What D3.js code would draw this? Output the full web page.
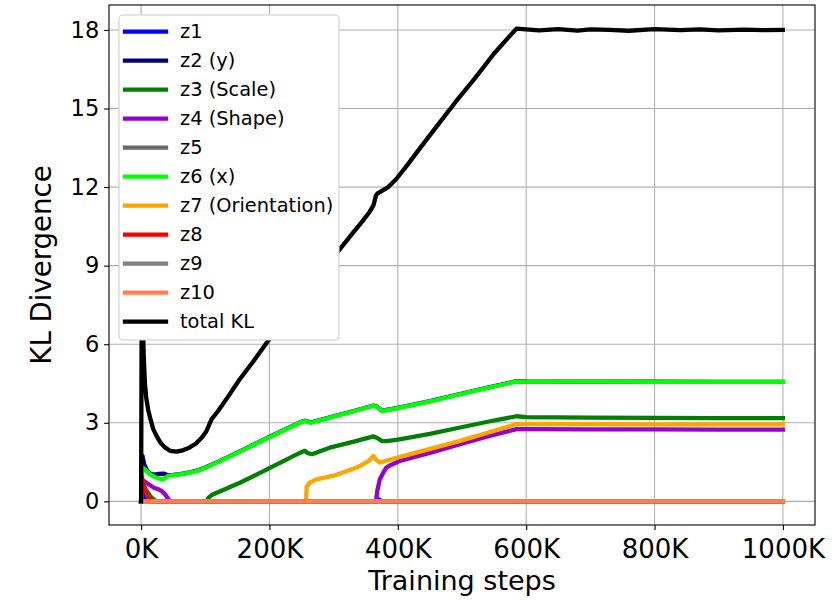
<!DOCTYPE html>
<html>
<head>
<meta charset="utf-8">
<script src="https://cdn.jsdelivr.net/npm/d3@7"></script>
<style>
  body { margin: 0; background: white; }
  text { font-family: "DejaVu Sans", sans-serif; }
</style>
</head>
<body>
<div id="chart"></div>
<script>
// training steps in thousands, KL values
const z1 = [[0,0],[2,0.3],[5,0.1],[10,0],[365,0],[370,0.08],[376,0],[1000,0]];
const z2 = [[0,0],[2,1.75],[5,1.4],[10,1.15],[15,1.05],[20,1.02],[28,1.05],[35,1.06],[42,1.0],[50,1.01],[61,1.04],[76,1.11],[87,1.17],[100,1.29],[118,1.49],[154,1.91],[200,2.46],[248,3.02],[255,3.08],[260,3.04],[266,3.02],[294,3.21],[330,3.44],[362,3.66],[368,3.61],[375,3.47],[380,3.48],[398,3.56],[450,3.83],[497,4.1],[540,4.34],[585,4.59],[600,4.58],[700,4.57],[800,4.57],[900,4.56],[1000,4.56]];
const z3 = [[0,0],[2,0.7],[5,0.55],[10,0.35],[16,0.15],[22,0.03],[26,0],[103,0],[105,0.14],[110,0.24],[118,0.33],[154,0.71],[200,1.27],[248,1.86],[255,1.93],[260,1.84],[266,1.8],[294,2.05],[330,2.27],[362,2.48],[368,2.42],[375,2.31],[382,2.3],[398,2.35],[450,2.58],[497,2.82],[540,3.04],[585,3.25],[600,3.22],[700,3.2],[800,3.19],[900,3.18],[1000,3.18]];
const z4 = [[0,0],[3,0.8],[10,0.68],[20,0.52],[28,0.45],[33,0.38],[38,0.25],[42,0.1],[45,0],[366,0],[368,0.4],[372,0.85],[378,1.12],[382,1.29],[390,1.4],[403,1.54],[450,1.85],[497,2.18],[540,2.48],[585,2.76],[600,2.76],[700,2.75],[800,2.75],[900,2.74],[1000,2.74]];
const z5 = [[0,0],[1000,0]];
const z6 = [[0,0],[2,1.3],[6,1.22],[14,1.03],[24,0.9],[34,0.84],[38,0.9],[42,0.97],[50,1.0],[61,1.03],[76,1.1],[87,1.16],[100,1.28],[118,1.48],[154,1.9],[200,2.45],[248,3.01],[255,3.07],[260,3.03],[266,3.01],[294,3.2],[330,3.43],[362,3.65],[368,3.6],[375,3.46],[380,3.47],[398,3.55],[450,3.82],[497,4.09],[540,4.33],[585,4.58],[600,4.57],[700,4.57],[800,4.56],[900,4.56],[1000,4.56]];
const z7 = [[0,0],[257,0],[258,0.55],[262,0.71],[273,0.84],[300,0.98],[336,1.29],[355,1.55],[362,1.73],[366,1.6],[372,1.48],[388,1.6],[430,1.87],[497,2.31],[540,2.62],[585,2.95],[600,2.96],[700,2.95],[800,2.94],[900,2.94],[1000,2.94]];
const z8 = [[0,0],[1,0.95],[3,0.75],[6,0.45],[10,0.2],[15,0.05],[20,0],[1000,0]];
const z9 = [[0,0],[1000,0]];
const z10 = [[0,0],[1000,0]];
const totalKL = [[0,0],[1,8.0],[2,7.6],[3,6.6],[4,5.6],[6,4.5],[8,3.95],[11,3.5],[15,3.1],[19,2.76],[24,2.5],[30,2.25],[37,2.06],[45,1.93],[55,1.9],[65,1.95],[75,2.05],[85,2.2],[95,2.45],[102,2.69],[106,2.92],[110,3.14],[120,3.45],[135,3.98],[154,4.67],[175,5.35],[196,6.07],[220,6.82],[250,7.75],[280,8.7],[310,9.64],[330,10.25],[345,10.7],[356,11.05],[362,11.3],[366,11.68],[368,11.75],[372,11.81],[385,12.0],[398,12.32],[415,12.85],[434,13.47],[460,14.3],[490,15.25],[520,16.15],[550,17.1],[570,17.65],[585,18.05],[600,18.02],[620,17.98],[650,18.03],[680,17.97],[700,18.02],[730,18.0],[760,17.97],[800,18.03],[840,17.99],[870,18.02],[900,17.98],[940,18.01],[970,17.99],[1000,18.0]];

const seriesNames = ["z1", "z2 (y)", "z3 (Scale)", "z4 (Shape)", "z5", "z6 (x)", "z7 (Orientation)", "z8", "z9", "z10", "total KL"];
const seriesData = [z1, z2, z3, z4, z5, z6, z7, z8, z9, z10, totalKL];
const seriesColors = ["#0000ff", "#000080", "#008000", "#9400d3", "#696969", "#00ff00", "#ffa500", "#ff0000", "#808080", "#ff7f50", "#000000"];
const xTicks = [0, 200, 400, 600, 800, 1000];
const yTicks = [0, 3, 6, 9, 12, 15, 18];

var dimensions = {
    width: 838,
    height: 600,
    margin: { top: 5, bottom: 75, right: 23, left: 109 }
};

var svg = d3.select("#chart")
    .append("svg")
    .attr("width", dimensions.width)
    .attr("height", dimensions.height);

// matplotlib style autoscale: 5% padding on each side
const allX = seriesData.flat().map(d => d[0]);
const allY = seriesData.flat().map(d => d[1]);
const [x0, x1] = d3.extent(allX);
const [y0, y1] = d3.extent(allY);
const xPad = (x1 - x0) * 0.05, yPad = (y1 - y0) * 0.05;

const xScale = d3.scaleLinear()
    .domain([x0 - xPad, x1 + xPad])
    .range([dimensions.margin.left, dimensions.width - dimensions.margin.right]);
const yScale = d3.scaleLinear()
    .domain([y0 - yPad, y1 + yPad])
    .range([dimensions.height - dimensions.margin.bottom, dimensions.margin.top]);

const plotLeft = xScale.range()[0], plotRight = xScale.range()[1];
const plotTop = yScale.range()[1], plotBottom = yScale.range()[0];

// grid
svg.append("g").selectAll("line")
    .data(xTicks).enter().append("line")
    .attr("x1", d => xScale(d)).attr("x2", d => xScale(d))
    .attr("y1", plotTop).attr("y2", plotBottom)
    .attr("stroke", "#b0b0b0").attr("stroke-width", 1.1);
svg.append("g").selectAll("line")
    .data(yTicks).enter().append("line")
    .attr("x1", plotLeft).attr("x2", plotRight)
    .attr("y1", d => yScale(d)).attr("y2", d => yScale(d))
    .attr("stroke", "#b0b0b0").attr("stroke-width", 1.1);

// lines
const line = d3.line().x(d => xScale(d[0])).y(d => yScale(d[1]));
svg.append("g").selectAll("path")
    .data(seriesData).enter().append("path")
    .attr("d", line)
    .attr("fill", "none")
    .attr("stroke", (d, i) => seriesColors[i])
    .attr("stroke-width", 4.3)
    .attr("stroke-linejoin", "round")
    .attr("stroke-linecap", "square");

// spines
svg.append("rect")
    .attr("x", plotLeft).attr("y", plotTop)
    .attr("width", plotRight - plotLeft).attr("height", plotBottom - plotTop)
    .attr("fill", "none").attr("stroke", "black").attr("stroke-width", 1.1);

// axes
const xAxis = svg.append("g")
    .attr("transform", `translate(0,${plotBottom})`)
    .call(d3.axisBottom(xScale).tickValues(xTicks).tickFormat(d => d + "K").tickSize(4.9).tickPadding(4.9));
const yAxis = svg.append("g")
    .attr("transform", `translate(${plotLeft},0)`)
    .call(d3.axisLeft(yScale).tickValues(yTicks).tickSize(4.9).tickPadding(4.9));
[xAxis, yAxis].forEach(ax => {
    ax.select(".domain").remove();
    ax.selectAll(".tick line").attr("stroke", "black").attr("stroke-width", 1.1);
    ax.selectAll(".tick text")
        .attr("fill", "black")
        .style("font-family", "DejaVu Sans")
        .style("font-size", "22.5px");
});
// x tick labels are set larger than the y ones
xAxis.selectAll(".tick text")
    .style("font-size", "26px")
    .attr("y", 33)
    .attr("dy", 0);

// axis labels
svg.append("text")
    .attr("x", (plotLeft + plotRight) / 2)
    .attr("y", 590)
    .attr("text-anchor", "middle")
    .style("font-size", "27px")
    .text("Training steps");
svg.append("text")
    .attr("transform", `translate(51,${(plotTop + plotBottom) / 2}) rotate(-90)`)
    .attr("text-anchor", "middle")
    .style("font-size", "27.6px")
    .text("KL Divergence");

// legend
const legend = svg.append("g");
legend.append("rect")
    .attr("x", 119).attr("y", 15)
    .attr("width", 220).attr("height", 325)
    .attr("rx", 4).attr("ry", 4)
    .attr("fill", "white")
    .attr("stroke", "#cccccc").attr("stroke-width", 1.1);
const entries = legend.selectAll("g")
    .data(seriesNames).enter().append("g")
    .attr("transform", (d, i) => `translate(0,${31.7 + i * 29})`);
entries.append("line")
    .attr("x1", 125).attr("x2", 166)
    .attr("stroke", (d, i) => seriesColors[i])
    .attr("stroke-width", 4.3)
    .attr("stroke-linecap", "square");
entries.append("text")
    .attr("x", 180)
    .attr("dy", "0.35em")
    .style("font-size", "19.4px")
    .text(d => d);
</script>
</body>
</html>
